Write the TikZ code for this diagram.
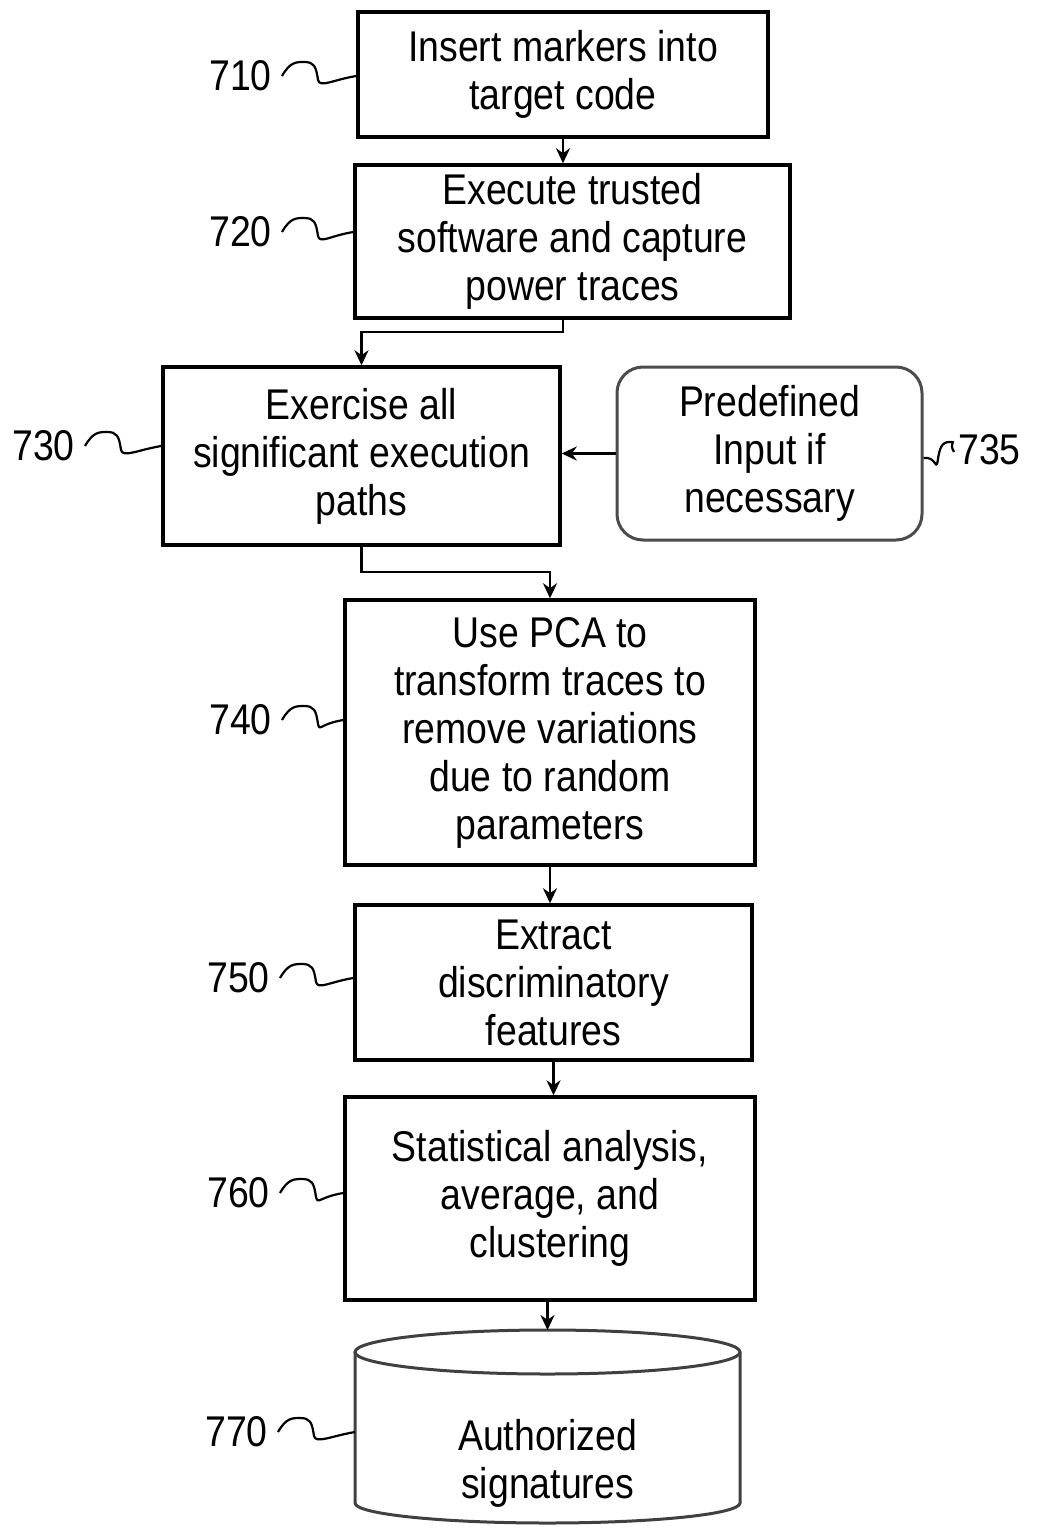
\documentclass[tikz,border=0pt]{standalone}
\usepackage{fontspec}
\setmainfont[FakeStretch=0.87]{Liberation Sans}
\usetikzlibrary{arrows.meta,calc}

\tikzset{
  stepbox/.style={draw, line width=3.5pt, align=center, inner sep=0pt,
    font=\fontsize{43}{48}\selectfont},
  inputbox/.style={stepbox, rounded corners=26pt, line width=3pt, draw=black!70},
  flow/.style={line width=2.5pt, -{Stealth[length=15pt,width=14pt]}},
  reflab/.style={font=\fontsize{43}{48}\selectfont, inner sep=0pt},
  squig/.style={line width=2.2pt},
}

% wavy leader from a reference number to its box
\newcommand{\lead}[2]{%
  \draw[squig] (#1.east) ++(10,0) .. controls +(8,-14) and +(-8,0) .. ++(22,-14)
    .. controls +(10,0) and +(-2,-14) .. ++(14,18)
    .. controls +(2,8) and +(-24,4) .. (#2);}

\begin{document}
\begin{tikzpicture}[x=1pt,y=-1pt]
  \useasboundingbox (0,0) rectangle (1054,1528);

  % steps
  \node[stepbox, minimum width=410pt, minimum height=125pt] (b710) at (563,74.5)
    {Insert markers into\\target code};
  \node[stepbox, minimum width=435pt, minimum height=153pt] (b720) at (572.5,241.5)
    {Execute trusted\\software and capture\\power traces};
  \node[stepbox, minimum width=397pt, minimum height=178pt] (b730) at (361.5,456)
    {Exercise all\\significant execution\\paths};
  \node[inputbox, minimum width=305pt, minimum height=173pt] (b735) at (769.5,453.5)
    {Predefined\\Input if\\necessary};
  \node[stepbox, minimum width=410pt, minimum height=265pt] (b740) at (550,732.5)
    {Use PCA to\\transform traces to\\remove variations\\due to random\\parameters};
  \node[stepbox, minimum width=397pt, minimum height=155pt] (b750) at (553.5,982.5)
    {Extract\\discriminatory\\features};
  \node[stepbox, minimum width=410pt, minimum height=203pt] (b760) at (550,1198.5)
    {Statistical analysis,\\average, and\\clustering};

  % database
  \coordinate (c770) at (547.5,1330);
  \coordinate (s770) at (355,1432);
  \draw[line width=3pt, draw=black!75] (355,1352) -- (355,1503)
    arc[start angle=180, end angle=0, x radius=192.5, y radius=20] -- (740,1352);
  \draw[line width=3pt, draw=black!75] (547.5,1352) ellipse[x radius=192.5, y radius=22];
  \node[reflab, align=center] (b770) at (547.5,1463) {Authorized\\signatures};

  % connectors
  \draw[flow] (b710.south) -- (b710.south |- b720.north);
  \draw[flow] (b720.south -| b710.south) -- ++(0,12) -| (b730.north);
  \draw[flow] (b735.west) -- (b735.west -| b730.east);
  \draw[flow] (b730.south) -- ++(0,25) -| (b740.north);
  \draw[flow] (b740.south) -- (b740.south |- b750.north);
  \draw[flow] (b750.south) -- (b750.south |- b760.north);
  \draw[flow] (b760.south -| c770) -- (c770);

  % reference numbers
  \node[reflab, anchor=east] (n710) at (272,76) {710};
  \node[reflab, anchor=east] (n720) at (272,232) {720};
  \node[reflab, anchor=east] (n730) at (75,446) {730};
  \node[reflab, anchor=west] (n735) at (958,450) {735};
  \node[reflab, anchor=east] (n740) at (272,720) {740};
  \node[reflab, anchor=east] (n750) at (270,978) {750};
  \node[reflab, anchor=east] (n760) at (270,1193) {760};
  \node[reflab, anchor=east] (n770) at (268,1432) {770};

  \lead{n710}{b710.west |- n710}
  \lead{n720}{b720.west |- n720}
  \lead{n730}{b730.west |- n730}
  \lead{n740}{b740.west |- n740}
  \lead{n750}{b750.west |- n750}
  \lead{n760}{b760.west |- n760}
  \lead{n770}{s770}
  \draw[squig] (b735.east |- n735) ++(0,8) .. controls +(12,-2) and +(-2,8) .. ++(14,4)
    .. controls +(2,-14) and +(-8,0) .. ++(12,-20)
    .. controls +(8,0) and +(-6,-10) .. ($(n735.west)+(-4,2)$);
\end{tikzpicture}
\end{document}
